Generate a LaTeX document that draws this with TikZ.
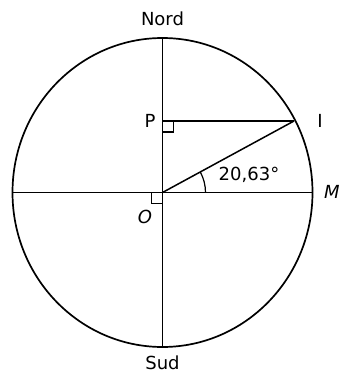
\documentclass[tikz,border=0pt]{standalone}
\usepackage{fontspec}
\setmainfont{DejaVu Sans}
\begin{document}
\begin{tikzpicture}[x=1pt,y=-1pt,
  lab/.style={font=\fontsize{18}{20}\selectfont, inner sep=0pt},
  ln/.style={line width=1.5pt},
  thin/.style={line width=1.2pt}]
\useasboundingbox (0,0) rectangle (340,374);
\coordinate (O) at (162.5,192.5);
\coordinate (N) at (162.5,38);
\coordinate (S) at (162.5,347);
\coordinate (W) at (12.5,192.5);
\coordinate (E) at (312.5,192.5);
\coordinate (I) at (294,121);
\coordinate (P) at (162.5,121);
\draw[line width=1.7pt] (O) ellipse [x radius=150, y radius=154.5];
\draw[ln] (N) -- (S);
\draw[ln] (W) -- (E);
\draw[ln] (P) -- (I);
\draw[ln] (O) -- (I);
\draw[thin] (162.5,132) -- (173.5,132) -- (173.5,121);
\draw[thin] (162.5,203.5) -- (151.5,203.5) -- (151.5,192.5);
\draw[thin] (205.5,192.5) arc[start angle=0, end angle=-28.6, x radius=43, y radius=43];
\node[lab] (nord) at (162.5,19) {Nord};
\node[lab] (sud) at (162.5,363) {Sud};
\node[lab] (pl) at (150,121) {P};
\node[lab] (il) at (320,121) {I};
\node[lab] (ml) at (332,192) {\itshape M};
\node[lab] (ol) at (145,217) {\itshape O};
\node[lab] (ang) at (249,175) {20,63°};
\end{tikzpicture}
\end{document}
